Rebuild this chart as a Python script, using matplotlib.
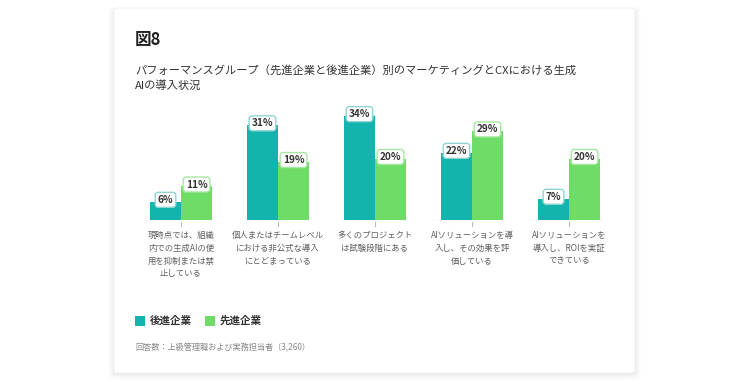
import matplotlib
matplotlib.use("Agg")
import matplotlib.pyplot as plt
from matplotlib.patches import FancyBboxPatch, Rectangle
import numpy as np

plt.rcParams['font.family'] = ['Noto Sans CJK JP', 'DejaVu Sans']

# ---------------- data ----------------
categories = [
    "現時点では、組織\n内での生成AIの使\n用を抑制または禁\n止している",
    "個人またはチームレベル\nにおける非公式な導入\nにとどまっている",
    "多くのプロジェクト\nは試験段階にある",
    "AIソリューションを導\n入し、その効果を評\n価している",
    "AIソリューションを\n導入し、ROIを実証\nできている",
]
laggards = [6, 31, 34, 22, 7]      # 後進企業
leaders = [11, 19, 20, 29, 20]     # 先進企業
series_names = ["後進企業", "先進企業"]

title = "図8"
subtitle = "パフォーマンスグループ（先進企業と後進企業）別のマーケティングとCXにおける生成\nAIの導入状況"
footnote = "回答数：上級管理職および実務担当者（3,260）"

teal = "#13b3ae"
green = "#6fdc67"
teal_edge = "#8fd6d3"
green_edge = "#a6e8a2"

W, H = 750, 381
fig = plt.figure(figsize=(W / 100, H / 100), dpi=100)
fig.patch.set_facecolor("white")

def fx(px):
    return px / W

def fy(py):
    return 1 - py / H

# card + soft shadow (drawn behind the axes)
for i, a in enumerate([0.025, 0.02, 0.015, 0.01]):
    d = 1 + i * 1.5
    fig.patches.append(FancyBboxPatch(
        (fx(114 - d), fy(373 + d + 1)), fx(521 + 2 * d), (362 + 2 * d) / H,
        boxstyle="round,pad=0,rounding_size=0.008",
        transform=fig.transFigure, facecolor="black", alpha=a,
        edgecolor="none", zorder=-3))
fig.patches.append(FancyBboxPatch(
    (fx(114), fy(373)), fx(521), 365 / H,
    boxstyle="round,pad=0,rounding_size=0.006",
    transform=fig.transFigure, facecolor="white", edgecolor="#f0f0f0",
    linewidth=0.6, zorder=-2))

# ---------------- texts ----------------
fig.text(fx(135), fy(40), title, fontsize=12, fontweight="bold",
         color="#222222", va="center", ha="left")
fig.text(fx(135), fy(78), subtitle, fontsize=8.1, color="#333333",
         va="center", ha="left", linespacing=1.55)

# ---------------- bars ----------------
ppp = 3.06                    # pixels per percent
base_px = 220
top_px = 95
ax = fig.add_axes([fx(135), fy(base_px), fx(615) - fx(135), (base_px - top_px) / H])
ax.set_ylim(0, (base_px - top_px) / ppp)
ax.set_xlim(-46 / 97, 4 + 46 / 97)
ax.axis("off")

x = np.arange(len(categories))
bw = 0.32
b1 = ax.bar(x - bw / 2, laggards, width=bw, color=teal, zorder=2)
b2 = ax.bar(x + bw / 2, leaders, width=bw, color=green, zorder=2)

for bars, vals, ec in [(b1, laggards, teal_edge), (b2, leaders, green_edge)]:
    for r, v in zip(bars, vals):
        ax.text(r.get_x() + r.get_width() / 2, v + 0.6, f"{v}%",
                ha="center", va="center", fontsize=7.2, fontweight="bold",
                color="#333333", zorder=4,
                bbox=dict(boxstyle="round,pad=0.25,rounding_size=0.3",
                          facecolor="white", edgecolor=ec, linewidth=1.0))

# ticks and category labels
for xi, cat in zip(x, categories):
    ax.plot([xi, xi], [-0.8, -2.0], color="#bbbbbb", lw=0.8,
            clip_on=False, zorder=1)
    ax.text(xi, -3.7, cat, ha="center", va="top", fontsize=6.0,
            color="#5e5e5e", linespacing=1.52)

# ---------------- legend ----------------
for px, col, name in [(135, teal, series_names[0]), (205, green, series_names[1])]:
    fig.patches.append(Rectangle((fx(px), fy(326)), fx(10), 10 / H,
                                 transform=fig.transFigure, facecolor=col,
                                 edgecolor="none"))
    fig.text(fx(px + 15), fy(321), name, fontsize=7.6, fontweight="bold",
             color="#333333", va="center", ha="left")

fig.text(fx(135), fy(348), footnote, fontsize=5.9, color="#888888",
         va="center", ha="left")

fig.savefig("out.png", dpi=100, facecolor="white")
